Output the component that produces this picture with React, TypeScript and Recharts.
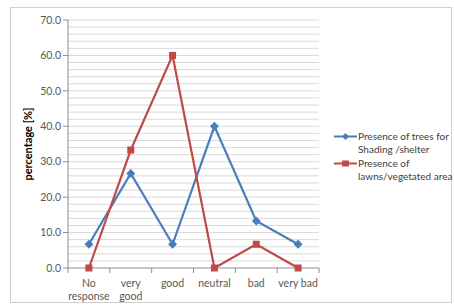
import { LineChart, Line, XAxis, YAxis, ReferenceLine } from 'recharts';

const categories = ['No\nresponse', 'very\ngood', 'good', 'neutral', 'bad', 'very bad'];
const treesShading = [6.7, 26.7, 6.7, 40.0, 13.3, 6.7];
const lawnsVegetated = [0, 33.3, 60.0, 0, 6.7, 0];
const yTicks = [0, 10, 20, 30, 40, 50, 60, 70];
const gridTicks = [2, 4, 6, 8, 10, 12, 14, 16, 18, 20, 22, 24, 26, 28, 30, 32, 34, 36, 38, 40, 42, 44, 46, 48, 50, 52, 54, 56, 58, 60, 62, 64, 66, 68, 70];

const COLORS = {
  trees: '#4A7EBB',
  lawns: '#BE4B48',
  grid: '#D9D9D9',
  axis: '#8C8C8C',
  text: '#595959',
};

const FONT = 'Lato, "Open Sans", sans-serif';

const data = categories.map((name, i) => ({
  name,
  trees: treesShading[i],
  lawns: lawnsVegetated[i],
}));

const BAND = 251 / 6;

function XTick(props: any) {
  const { x, y, payload, index } = props;
  const lines = String(payload.value).split('\n');
  return (
    <g>
      <line x1={x - BAND / 2} y1={y - 8} x2={x - BAND / 2} y2={y - 3} stroke={COLORS.axis} />
      {index === categories.length - 1 && (
        <line x1={x + BAND / 2} y1={y - 8} x2={x + BAND / 2} y2={y - 3} stroke={COLORS.axis} />
      )}
      <text x={x} y={y + 11} textAnchor="middle" fill={COLORS.text} fontSize={10.5} fontFamily={FONT}>
        {lines.map((l, i) => (
          <tspan key={i} x={x} dy={i === 0 ? 0 : 13}>
            {l}
          </tspan>
        ))}
      </text>
    </g>
  );
}

function Diamond(props: any) {
  const { cx, cy } = props;
  if (cx == null || cy == null) return null;
  const r = 4.5;
  return (
    <path
      d={`M${cx},${cy - r} L${cx + r},${cy} L${cx},${cy + r} L${cx - r},${cy} Z`}
      fill={COLORS.trees}
    />
  );
}

function Square(props: any) {
  const { cx, cy } = props;
  if (cx == null || cy == null) return null;
  const s = 7;
  return <rect x={cx - s / 2} y={cy - s / 2} width={s} height={s} fill={COLORS.lawns} />;
}

function ChartLegend() {
  const items = [
    { color: COLORS.trees, lines: ['Presence of trees for', 'Shading /shelter'], marker: 'diamond' },
    { color: COLORS.lawns, lines: ['Presence of', 'lawns/vegetated area'], marker: 'square' },
  ];
  return (
    <div
      style={{
        position: 'absolute',
        left: 334,
        top: 130,
        width: 118,
        fontFamily: FONT,
        fontSize: 10,
        color: '#404040',
      }}
    >
      {items.map((it, i) => (
        <div key={i} style={{ display: 'flex', alignItems: 'flex-start', marginBottom: 1 }}>
          <svg width={23} height={13} style={{ flex: 'none', marginRight: 1 }}>
            <line x1={0} y1={6.5} x2={23} y2={6.5} stroke={it.color} strokeWidth={2} />
            {it.marker === 'diamond' ? (
              <path d="M11.5,3 L15,6.5 L11.5,10 L8,6.5 Z" fill={it.color} />
            ) : (
              <rect x={8} y={3.5} width={7} height={6} fill={it.color} />
            )}
          </svg>
          <div style={{ lineHeight: '13px', whiteSpace: 'nowrap' }}>
            {it.lines.map((l, j) => (
              <div key={j}>{l}</div>
            ))}
          </div>
        </div>
      ))}
    </div>
  );
}

export default function App() {
  return (
    <div style={{ position: 'absolute', left: 0, top: 0, width: 454, height: 306, background: '#fff' }}>
      <div
        style={{
          position: 'absolute',
          left: 10,
          top: 7,
          width: 442,
          height: 296,
          border: '1px solid #D0D0D0',
          boxSizing: 'border-box',
        }}
      />
      <LineChart
        width={454}
        height={306}
        data={data}
        margin={{ top: 20, right: 135, left: 8, bottom: 0 }}
      >
        {gridTicks.map((v) => (
          <ReferenceLine key={v} y={v} stroke={COLORS.grid} strokeWidth={1} />
        ))}
        <XAxis
          dataKey="name"
          scale="band"
          interval={0}
          tickLine={false}
          axisLine={{ stroke: COLORS.axis }}
          tick={<XTick />}
          height={38}
        />
        <YAxis
          width={60}
          domain={[0, 70]}
          ticks={yTicks}
          interval={0}
          tickFormatter={(v: number) => v.toFixed(1)}
          tick={{ fill: COLORS.text, fontSize: 10.5, fontFamily: FONT }}
          tickLine={{ stroke: COLORS.axis }}
          tickSize={5}
          axisLine={{ stroke: COLORS.axis }}
          label={{
            value: 'percentage [%]',
            angle: -90,
            position: 'insideLeft',
            offset: 20,
            style: { textAnchor: 'middle', fontWeight: 'bold', fontSize: 11, fill: '#000', fontFamily: FONT },
          }}
        />
        <Line
          type="linear"
          dataKey="trees"
          stroke={COLORS.trees}
          strokeWidth={2.2}
          dot={<Diamond />}
          activeDot={false}
          isAnimationActive={false}
        />
        <Line
          type="linear"
          dataKey="lawns"
          stroke={COLORS.lawns}
          strokeWidth={2.2}
          dot={<Square />}
          activeDot={false}
          isAnimationActive={false}
        />
      </LineChart>
      <ChartLegend />
    </div>
  );
}
